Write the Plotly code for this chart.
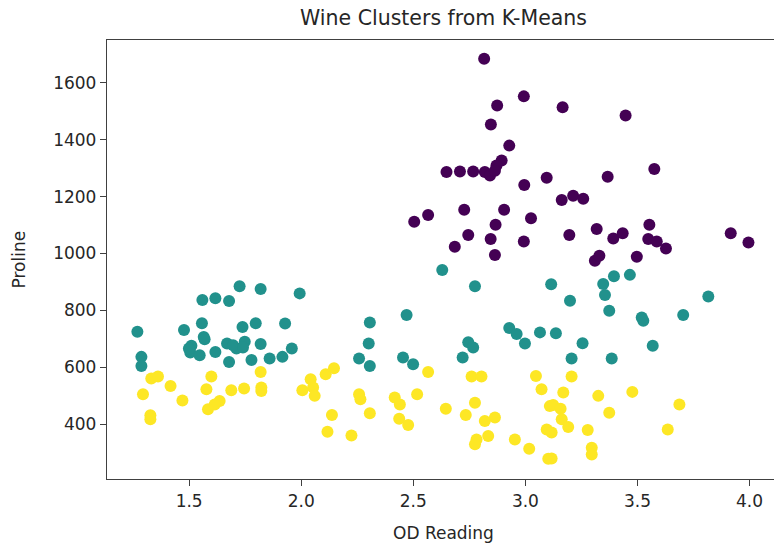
import plotly.graph_objects as go

# Cluster 0 (purple)
od_c0 = [2.816, 2.993, 2.874, 3.166, 2.846, 2.928, 2.894, 2.871, 2.648, 2.708, 2.767, 2.819,
         2.842, 2.864, 2.995, 3.095, 3.162, 3.213, 3.258, 2.566, 2.504, 2.727, 2.905, 3.025,
         2.867, 2.745, 2.845, 2.685, 2.993, 2.864, 3.196, 3.318, 3.310, 3.447, 3.575, 3.367,
         3.392, 3.434, 3.553, 3.548, 3.586, 3.627, 3.497, 3.330, 3.916, 3.995]
pro_c0 = [1684, 1552, 1520, 1514, 1453, 1379, 1327, 1309, 1286, 1288, 1288, 1286,
          1274, 1291, 1241, 1266, 1188, 1203, 1192, 1135, 1112, 1154, 1154, 1124,
          1101, 1065, 1051, 1024, 1042, 995, 1065, 1086, 975, 1485, 1297, 1270,
          1053, 1071, 1101, 1051, 1042, 1018, 989, 992, 1071, 1039]

# Cluster 1 (teal)
od_c1 = [1.725, 1.819, 1.993, 1.559, 1.617, 1.678, 1.269, 1.477, 1.557, 1.738, 1.797, 1.928,
         1.510, 1.569, 1.505, 1.547, 1.617, 1.669, 1.711, 1.748, 1.819, 1.678, 1.778, 1.859,
         1.916, 1.958, 1.287, 1.287, 1.565, 1.499, 1.696, 1.740,
         2.629, 2.775, 2.306, 2.470, 2.301, 2.258, 2.306, 2.454, 2.499, 2.928, 2.961, 2.998,
         3.065, 2.745, 2.767, 2.720, 3.115, 3.199, 3.347, 3.395, 3.466, 3.355, 3.374, 3.519,
         3.526, 3.704, 3.816, 3.136, 3.255, 3.206, 3.385, 3.568]
pro_c1 = [885, 875, 860, 837, 843, 833, 725, 731, 755, 742, 755, 754,
          676, 699, 652, 643, 654, 684, 666, 690, 682, 619, 626, 631,
          637, 666, 637, 605, 707, 666, 678, 670,
          942, 885, 758, 784, 684, 631, 605, 635, 611, 738, 717, 684,
          723, 688, 670, 635, 892, 834, 893, 920, 925, 854, 799, 775,
          764, 784, 849, 720, 685, 631, 631, 676]

# Cluster 2 (yellow)
od_c2 = [1.331, 1.361, 1.294, 1.417, 1.470, 1.327, 1.327, 1.599, 1.577, 1.636, 1.614, 1.584,
         1.688, 1.745, 1.819, 1.822, 1.822, 2.005, 2.042, 2.053, 2.060, 2.109, 2.146, 2.137,
         2.117, 2.566, 2.258, 2.264, 2.306, 2.224, 2.417, 2.440, 2.517, 2.437, 2.477, 2.645,
         2.734, 2.775, 2.760, 2.804, 2.819, 2.864, 2.782, 2.775, 2.834, 2.953, 3.017, 3.047,
         3.072, 3.095, 3.102, 3.109, 3.206, 3.169, 3.124, 3.157, 3.162, 3.191, 3.117, 3.117,
         3.325, 3.374, 3.278, 3.296, 3.296, 3.477, 3.687, 3.635]
pro_c2 = [561, 568, 506, 535, 484, 432, 418, 568, 523, 482, 470, 453,
          520, 526, 584, 517, 529, 520, 558, 529, 500, 576, 597, 433,
          374, 584, 506, 488, 439, 361, 494, 470, 506, 420, 398, 455,
          433, 476, 568, 568, 412, 424, 347, 330, 359, 347, 314, 570,
          523, 382, 279, 464, 568, 512, 468, 455, 418, 391, 371, 280,
          500, 441, 380, 318, 294, 514, 470, 382]

colors = ["#440154", "#21918c", "#fde725"]

fig = go.Figure()
for xs, ys, c in [(od_c0, pro_c0, colors[0]), (od_c1, pro_c1, colors[1]), (od_c2, pro_c2, colors[2])]:
    fig.add_trace(go.Scatter(x=xs, y=ys, mode="markers",
                             marker=dict(color=c, size=12, line=dict(width=0)),
                             showlegend=False, hoverinfo="skip"))

L, T, W, H = 107, 40, 667, 439
font = "DejaVu Sans"
tick_font = dict(family=font, size=17, color="#262626")
axis_common = dict(showgrid=False, zeroline=False, showline=True, linecolor="#404040",
                   linewidth=1.3, ticks="outside", ticklen=6, tickwidth=1.3,
                   tickcolor="#404040", tickfont=tick_font)

fig.update_layout(
    width=774, height=545,
    margin=dict(l=L, r=774 - L - W, t=T, b=545 - T - H),
    paper_bgcolor="white", plot_bgcolor="white",
    xaxis=dict(range=[1.1335, 4.109], tickvals=[1.5, 2.0, 2.5, 3.0, 3.5, 4.0],
               ticktext=["1.5", "2.0", "2.5", "3.0", "3.5", "4.0"], mirror=True, **axis_common),
    yaxis=dict(range=[208, 1750], tickvals=[400, 600, 800, 1000, 1200, 1400, 1600], **axis_common),
)

cx = (443.5 - L) / W
fig.add_annotation(text="Wine Clusters from K-Means", xref="paper", yref="paper",
                   x=cx, y=1 + (T - 18) / H, xanchor="center", yanchor="middle",
                   showarrow=False, font=dict(family=font, size=20.5, color="#262626"))
fig.add_annotation(text="OD Reading", xref="paper", yref="paper",
                   x=cx, y=-(533 - T - H) / H, xanchor="center", yanchor="middle",
                   showarrow=False, font=dict(family=font, size=17, color="#262626"))
fig.add_annotation(text="Proline", xref="paper", yref="paper", textangle=-90,
                   x=(18 - L) / W, y=0.5, xanchor="center", yanchor="middle",
                   showarrow=False, font=dict(family=font, size=17, color="#262626"))

fig.write_html("out.html")
